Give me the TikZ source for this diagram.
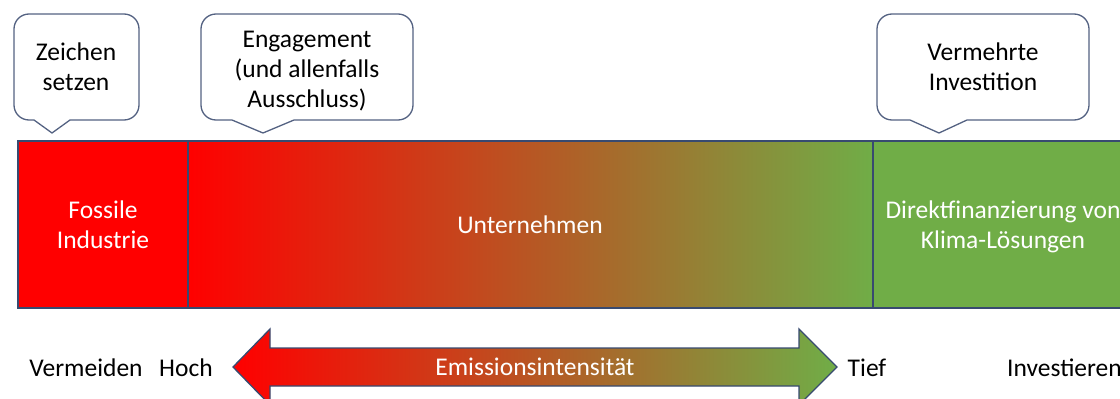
\documentclass[tikz,border=0pt]{standalone}
\usepackage{fontspec}
\setmainfont{Carlito}
\definecolor{fossilred}{RGB}{255,0,0}
\definecolor{climagreen}{RGB}{112,173,71}
\definecolor{frameblue}{RGB}{56,74,112}
\definecolor{bubbleline}{RGB}{84,98,130}
\begin{document}
\begin{tikzpicture}[x=1pt, y=1pt,
	txt/.style={font=\fontsize{25.5}{30}\selectfont, align=center, inner sep=0pt},
	bubble/.style={draw=bubbleline, line width=1.3pt, fill=white, line join=round},
	frame/.style={draw=frameblue, line width=1.6pt}]
	\useasboundingbox (0,0) rectangle (1120,-399);
	\clip (0,0) rectangle (1120,-399);
	% Sprechblasen
	\draw[bubble] (34,-120) -- (29,-120) arc[start angle=270, end angle=180, radius=15] -- (14,-29) arc[start angle=180, end angle=90, radius=15] -- (124,-14) arc[start angle=90, end angle=0, radius=15] -- (139,-105) arc[start angle=0, end angle=-90, radius=15] -- (70,-120) -- (52,-133) -- cycle;
	\draw[bubble] (232,-120) -- (216,-120) arc[start angle=270, end angle=180, radius=15] -- (201,-29) arc[start angle=180, end angle=90, radius=15] -- (398,-14) arc[start angle=90, end angle=0, radius=15] -- (413,-105) arc[start angle=0, end angle=-90, radius=15] -- (294,-120) -- (263,-133) -- cycle;
	\draw[bubble] (910,-120) -- (892,-120) arc[start angle=270, end angle=180, radius=15] -- (877,-29) arc[start angle=180, end angle=90, radius=15] -- (1074,-14) arc[start angle=90, end angle=0, radius=15] -- (1089,-105) arc[start angle=0, end angle=-90, radius=15] -- (967,-120) -- (939,-133) -- cycle;
	% Band
	\draw[frame, fill=fossilred] (18,-141) rectangle (188,-308);
	\shadedraw[frame, left color=fossilred, right color=climagreen] (188,-141) rectangle (873,-308);
	\draw[frame, fill=climagreen] (873,-141) rectangle (1135,-308);
	% Pfeil
	\shadedraw[frame, line width=1.3pt, left color=fossilred, right color=climagreen] (233,-367) -- (270,-329) -- (270,-348) -- (799,-348) -- (799,-329) -- (837,-367) -- (799,-405) -- (799,-386) -- (270,-386) -- (270,-405) -- cycle;
	\node[txt] (zeichen) at (76,-67) {Zeichen\\setzen};
	\node[txt] (engagement) at (307,-71) {Engagement\\(und allenfalls\\Ausschluss)};
	\node[txt] (vermehrt) at (983,-67) {Vermehrte\\Investition};
	\node[txt, white] (fossil) at (103,-225) {Fossile\\Industrie};
	\node[txt, white] (firms) at (530,-225) {Unternehmen};
	\node[txt, white] (direct) at (1003,-227) {Direktfinanzierung von\\Klima-Lösungen};
	\node[txt] (avoid) at (86,-368) {Vermeiden};
	\node[txt] (high) at (186,-368) {Hoch};
	\node[txt] (low) at (867,-368) {Tief};
	\node[txt, anchor=west] (invest) at (1007,-368) {Investieren};
	\node[txt, white] (intensity) at (535,-367) {Emissionsintensität};
\end{tikzpicture}
\end{document}
